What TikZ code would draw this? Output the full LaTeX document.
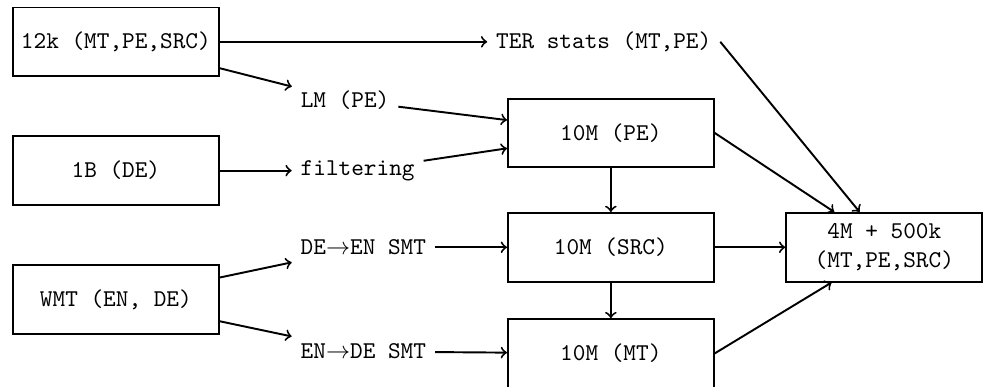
\documentclass[tikz,border=0pt]{standalone}
\usepackage{tikz}
\usetikzlibrary{positioning}
\tikzstyle{block} = [rectangle,draw,thick,font=\ttfamily,minimum height=1cm,minimum width=3cm]
\tikzstyle{step txt} = [font=\ttfamily]

\begin{document}
\begin{tikzpicture}[auto,node distance = 1cm,thick]
    \useasboundingbox (-1.69,0.61) rectangle (12.66,-5.03);
    % Sources on the left
    \node [block] (src12k) {12k (MT,PE,SRC)};
    \node [block, below=0.85cm of src12k] (src1b) {1B (DE)};
    \node [block, below=0.85cm of src1b] (wmt) {WMT (EN, DE)};
    % Intermediate steps
    \node [step txt, right=3.9cm of src12k] (ter) {TER stats (MT,PE)};
    \node [step txt, right=1.05cm of src12k, yshift=-0.85cm] (lm) {LM (PE)};
    \node [step txt, right=1.05cm of src1b] (filt) {filtering};
    \node [step txt, right=1.05cm of wmt, yshift=0.76cm] (deen) {DE$\rightarrow$EN SMT};
    \node [step txt, right=1.05cm of wmt, yshift=-0.76cm] (ende) {EN$\rightarrow$DE SMT};
    % The 10M blocks
    \node [block, right=1.05cm of deen] (src10m) {10M (SRC)};
    \node [block, above=0.64cm of src10m] (pe10m) {10M (PE)};
    \node [block, below=0.52cm of src10m] (mt10m) {10M (MT)};
    \node [block, right=1.03cm of src10m, minimum width=2.86cm, align=center] (final) {4M + 500k\\(MT,PE,SRC)};

    % Connect everything
    \draw [->] (src12k) -- (ter);
    \draw [->] (src12k) -- (lm);
    \draw [->] (src1b) -- (filt);
    \draw [->] (wmt) -- (deen);
    \draw [->] (wmt) -- (ende);
    \draw [->] (lm) -- (pe10m);
    \draw [->] (filt) -- (pe10m);
    \draw [->] (deen) -- (src10m);
    \draw [->] (ende) -- (mt10m);
    \draw [->] (pe10m) -- (src10m);
    \draw [->] (src10m) -- (mt10m);
    \draw [->] (src10m) -- (final);
    \draw [->] (ter.east) -- ([xshift=-0.36cm]final.north);
    \draw [->] (pe10m.east) -- ([xshift=-0.73cm]final.north);
    \draw [->] (mt10m.east) -- ([xshift=-0.77cm]final.south);
\end{tikzpicture}
\end{document}
